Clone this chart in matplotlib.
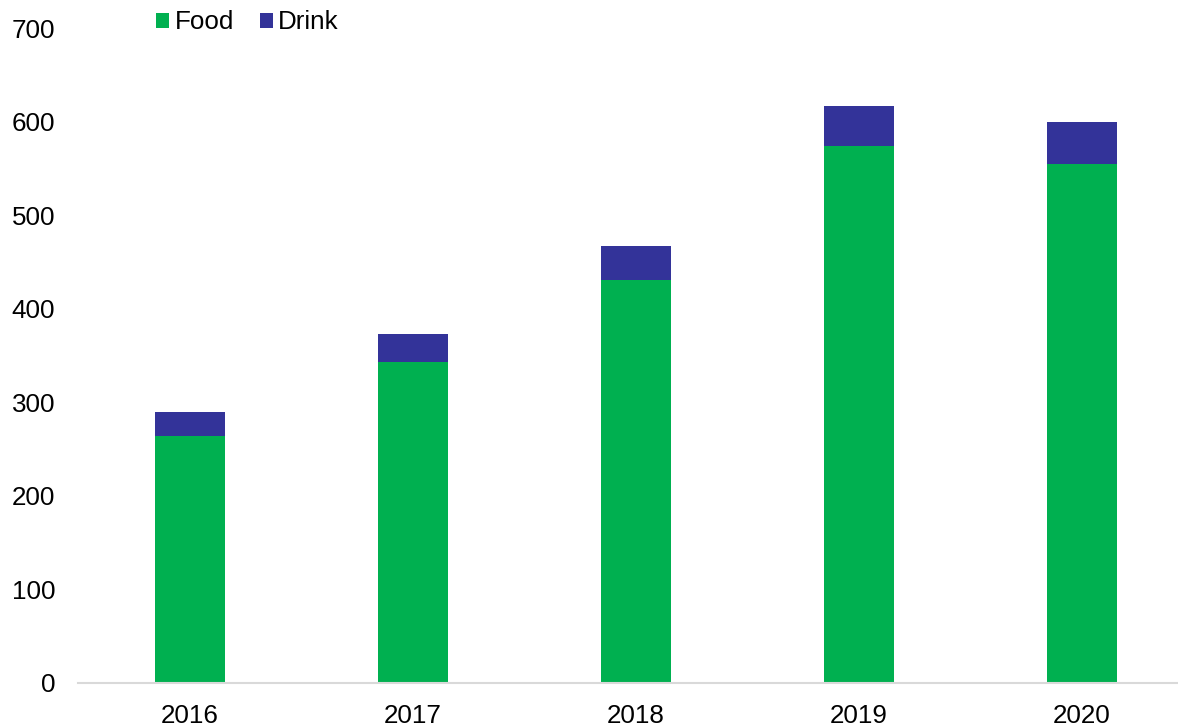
import matplotlib
matplotlib.use("Agg")
import matplotlib.pyplot as plt
import numpy as np

years = ["2016", "2017", "2018", "2019", "2020"]
food = [264, 343, 431, 574, 555]
drink = [25, 30, 36, 43, 45]
yticks = [0, 100, 200, 300, 400, 500, 600, 700]

plt.rcParams["font.family"] = ["Liberation Sans", "DejaVu Sans"]

fig = plt.figure(figsize=(11.78, 7.28), dpi=100)
ax = fig.add_axes([78 / 1178, 1 - 682.7 / 728, (1193.5 - 78) / 1178, (682.7 - 28) / 728])

x = np.arange(len(years))
w = 0.314
ax.bar(x, food, width=w, color="#00B050", label="Food")
ax.bar(x, drink, width=w, bottom=food, color="#333399", label="Drink")

ax.set_xlim(-0.5, 4.5)
ax.set_ylim(0, 700)
ax.set_yticks(yticks)
ax.set_xticks(x)
ax.set_xticklabels(years)

for s in ["left", "right", "top"]:
    ax.spines[s].set_visible(False)
ax.spines["bottom"].set_color("#D9D9D9")
ax.spines["bottom"].set_linewidth(1.5)
ax.tick_params(axis="both", length=0, labelsize=18.7, colors="black")
ax.tick_params(axis="y", pad=16.5)
ax.tick_params(axis="x", pad=15)

leg = fig.legend(loc="upper left", bbox_to_anchor=(146 / 1178, 1 - 0 / 728), ncol=2,
                 frameon=False, fontsize=18.7, handlelength=0.5, handleheight=0.5,
                 handletextpad=0.2, columnspacing=1.0, borderaxespad=0)

fig.savefig("out.png", dpi=100)
